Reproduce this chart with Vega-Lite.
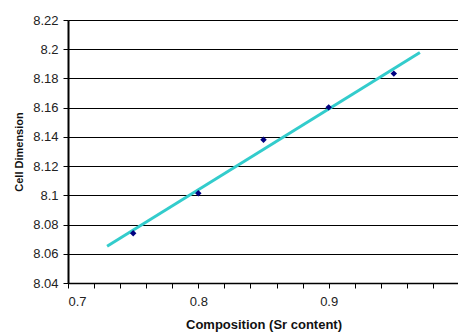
{
  "$schema": "https://vega.github.io/schema/vega-lite/v6.json",
  "width": 391,
  "height": 263,
  "autosize": {"type": "none"},
  "padding": {"left": 68, "top": 20, "right": 0, "bottom": 50},
  "background": "white",
  "config": {
    "view": {"stroke": null},
    "font": "Liberation Sans",
    "axis": {
      "labelFont": "Liberation Sans",
      "labelFontSize": 13,
      "labelColor": "#222222",
      "titleFont": "Liberation Sans",
      "titleFontWeight": "bold",
      "titleColor": "#111111",
      "domainColor": "#000000",
      "tickColor": "#000000",
      "gridColor": "#000000",
      "gridOpacity": 1,
      "tickSize": 5
    }
  },
  "datasets": {
    "points": [
      {"composition": 0.75, "cell": 8.074},
      {"composition": 0.8, "cell": 8.1015},
      {"composition": 0.85, "cell": 8.138},
      {"composition": 0.9, "cell": 8.1602},
      {"composition": 0.95, "cell": 8.1833}
    ],
    "trend": [
      {"composition": 0.73, "cell": 8.0652},
      {"composition": 0.97, "cell": 8.1978}
    ]
  },
  "layer": [
    {
      "data": {"name": "trend"},
      "mark": {"type": "line", "color": "#33CCCC", "strokeWidth": 3, "clip": true},
      "encoding": {
        "x": {
          "field": "composition",
          "type": "quantitative",
          "scale": {"domain": [0.7, 1.0], "nice": false, "zero": false},
          "axis": {
            "title": "Composition (Sr content)",
            "titleFontSize": 13,
            "values": [0.7, 0.72, 0.74, 0.76, 0.78, 0.8, 0.82, 0.84, 0.86, 0.88, 0.9, 0.92, 0.94, 0.96, 0.98],
            "tickCount": 40,
            "labelExpr": "abs(datum.value*10 - round(datum.value*10)) < 0.001 && datum.value < 0.95 ? format(datum.value, '.1~f') : ''",
            "labelOverlap": false,
            "labelPadding": 7,
            "titlePadding": 10,
            "grid": false,
            "domainWidth": 1.5
          }
        },
        "y": {
          "field": "cell",
          "type": "quantitative",
          "scale": {"domain": [8.04, 8.22], "nice": false, "zero": false},
          "axis": {
            "title": "Cell Dimension",
            "titleFontSize": 11,
            "values": [8.04, 8.06, 8.08, 8.1, 8.12, 8.14, 8.16, 8.18, 8.2, 8.22],
            "tickCount": 40,
            "format": "~g",
            "labelOverlap": false,
            "labelPadding": 5,
            "titlePadding": 8,
            "grid": true,
            "gridWidth": 1,
            "domainWidth": 2
          }
        }
      }
    },
    {
      "data": {"name": "points"},
      "mark": {"type": "point", "shape": "diamond", "filled": true, "color": "#000080", "size": 42, "opacity": 1},
      "encoding": {
        "x": {"field": "composition", "type": "quantitative"},
        "y": {"field": "cell", "type": "quantitative"}
      }
    }
  ]
}
